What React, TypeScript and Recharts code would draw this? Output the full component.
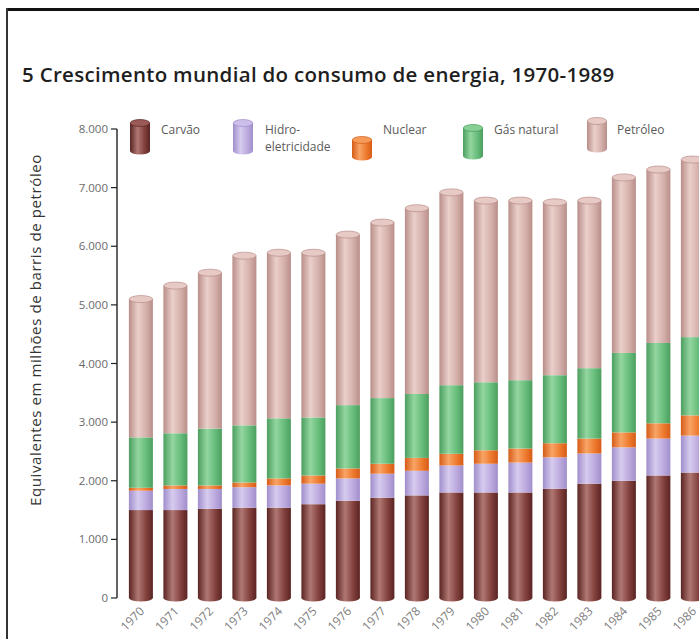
import React from "react";
import { BarChart, Bar, XAxis, YAxis, Legend } from "recharts";

const years = [1970, 1971, 1972, 1973, 1974, 1975, 1976, 1977, 1978, 1979, 1980, 1981, 1982, 1983, 1984, 1985, 1986];
const carvao = [1500, 1500, 1520, 1540, 1540, 1600, 1660, 1710, 1750, 1800, 1800, 1800, 1865, 1950, 2000, 2090, 2140];
const hidro = [330, 360, 340, 350, 380, 350, 380, 410, 420, 460, 490, 510, 535, 515, 570, 630, 630];
const nuclear = [50, 60, 60, 80, 120, 140, 170, 170, 220, 200, 230, 240, 240, 255, 255, 260, 345];
const gas = [860, 890, 970, 975, 1025, 990, 1080, 1120, 1090, 1170, 1160, 1165, 1160, 1200, 1355, 1370, 1335];
const petroleo = [2410, 2570, 2710, 2945, 2875, 2860, 2960, 3045, 3220, 3340, 3150, 3115, 3000, 2910, 3045, 3010, 3080];
const yTicks = [0, 1000, 2000, 3000, 4000, 5000, 6000, 7000, 8000];

const title = "5 Crescimento mundial do consumo de energia, 1970-1989";
const yLabel = "Equivalentes em milhões de barris de petróleo";

const data = years.map((year, i) => ({
  year,
  carvao: carvao[i],
  hidro: hidro[i],
  nuclear: nuclear[i],
  gas: gas[i],
  petroleo: petroleo[i],
}));

// cylinder colours: dark edge, base, highlight, cap
const series = [
  { key: "carvao", name: "Carvão", dark: "#5a2422", base: "#83413d", light: "#b07873", cap: "#9a5a55" },
  { key: "hidro", name: "Hidro-|eletricidade", dark: "#a08ecb", base: "#bcaade", light: "#d6cbef", cap: "#cdbfea" },
  { key: "nuclear", name: "Nuclear", dark: "#d65c18", base: "#ee7a2e", light: "#f8a466", cap: "#f59a58" },
  { key: "gas", name: "Gás natural", dark: "#4c9e5f", base: "#67bd7b", light: "#93d6a0", cap: "#86cf95" },
  { key: "petroleo", name: "Petróleo", dark: "#b98e89", base: "#d5b0ab", light: "#eacfca", cap: "#e7cac5" },
];

const legendPos: Record<string, { ix: number; iy: number; ih: number; tx: number }> = {
  carvao: { ix: 129, iy: 119, ih: 33, tx: 161 },
  hidro: { ix: 232, iy: 119, ih: 33, tx: 265 },
  nuclear: { ix: 351, iy: 136, ih: 22, tx: 383 },
  gas: { ix: 462, iy: 124, ih: 33, tx: 494 },
  petroleo: { ix: 586, iy: 117, ih: 33, tx: 617 },
};

const fmt = (v: number) => v.toLocaleString("de-DE");

const cylinder = (s: (typeof series)[number], pos: string) => (props: any) => {
  const { x, y, width, height } = props;
  if (!height || height <= 0) return <g />;
  const cx = x + width / 2;
  const rx = width / 2;
  const grad = `url(#g-${s.key})`;
  return (
    <g>
      {pos === "bottom" && <ellipse cx={cx} cy={y + height} rx={rx} ry={3.5} fill={grad} />}
      <rect x={x} y={pos === "top" ? y + 3 : y} width={width} height={pos === "top" ? height - 3 : height} fill={grad} />
      {pos === "top" && <ellipse cx={cx} cy={y + 3} rx={rx - 0.3} ry={3.5} fill={s.cap} stroke={s.dark} strokeWidth={0.7} />}
    </g>
  );
};

const LegendIcon = ({ s, h }: { s: (typeof series)[number]; h: number }) => (
  <svg width={22} height={h + 4} style={{ display: "block" }}>
    <defs>
      <linearGradient id={`lg-${s.key}`} x1="0" y1="0" x2="1" y2="0">
        <stop offset="0%" stopColor={s.dark} />
        <stop offset="38%" stopColor={s.light} />
        <stop offset="72%" stopColor={s.base} />
        <stop offset="100%" stopColor={s.dark} />
      </linearGradient>
    </defs>
    <ellipse cx={11} cy={h - 1} rx={10} ry={3.5} fill={`url(#lg-${s.key})`} />
    <rect x={1} y={4} width={20} height={h - 5} fill={`url(#lg-${s.key})`} />
    <ellipse cx={11} cy={4} rx={9.7} ry={3.5} fill={s.cap} stroke={s.dark} strokeWidth={0.7} />
  </svg>
);

const renderLegend = () => (
  <div style={{ position: "relative", width: 699, height: 1 }}>
    {series.map((s) => {
      const p = legendPos[s.key];
      const lines = s.name.split("|");
      return (
        <React.Fragment key={s.key}>
          <div style={{ position: "absolute", left: p.ix, top: p.iy }}>
            <LegendIcon s={s} h={p.ih} />
          </div>
          <div
            style={{
              position: "absolute",
              left: p.tx,
              top: 121,
              fontSize: 12,
              lineHeight: "17px",
              color: "#5a5a5a",
              whiteSpace: "nowrap",
            }}
          >
            {lines.map((l) => (
              <div key={l}>{l}</div>
            ))}
          </div>
        </React.Fragment>
      );
    })}
  </div>
);

const YearTick = ({ x, y, payload }: any) => (
  <text
    x={x + 4}
    y={y + 14}
    transform={`rotate(-45 ${x + 4} ${y + 14})`}
    textAnchor="end"
    fontSize={12}
    fill="#808080"
  >
    {payload.value}
  </text>
);

const YTitle = () => (
  <text
    x={41}
    y={330}
    transform="rotate(-90 41 330)"
    textAnchor="middle"
    fontSize={15}
    letterSpacing={0.6}
    fill="#333"
  >
    {yLabel}
  </text>
);

export default function App() {
  return (
    <div
      style={{
        position: "absolute",
        left: 0,
        top: 0,
        width: 699,
        height: 639,
        overflow: "hidden",
        background: "#fff",
        fontFamily: '"Open Sans", sans-serif',
      }}
    >
      <div style={{ position: "absolute", left: 6, top: 8, width: 693, height: 3, background: "#111" }} />
      <div style={{ position: "absolute", left: 6, top: 8, width: 2, height: 631, background: "#333" }} />
      <div
        style={{
          position: "absolute",
          left: 22,
          top: 60,
          fontSize: 20.5,
          fontWeight: 600,
          color: "#1e1e1e",
          whiteSpace: "nowrap",
          letterSpacing: 0.3,
        }}
      >
        {title}
      </div>
      <div style={{ position: "absolute", left: 0, top: 0 }}>
        <BarChart
          width={720}
          height={639}
          data={data}
          barSize={24}
          margin={{ top: 129, right: 1, bottom: 11, left: 0 }}
        >
          <defs>
            {series.map((s) => (
              <linearGradient key={s.key} id={`g-${s.key}`} x1="0" y1="0" x2="1" y2="0">
                <stop offset="0%" stopColor={s.dark} />
                <stop offset="38%" stopColor={s.light} />
                <stop offset="72%" stopColor={s.base} />
                <stop offset="100%" stopColor={s.dark} />
              </linearGradient>
            ))}
          </defs>
          <XAxis
            dataKey="year"
            type="number"
            domain={[1969.3, 1986.75]}
            ticks={years}
            interval={0}
            height={30}
            axisLine={false}
            tickLine={false}
            tickSize={0}
            tickMargin={0}
            tick={<YearTick />}
          />
          <YAxis
            domain={[0, 8000]}
            ticks={yTicks}
            width={117}
            tickFormatter={fmt}
            tick={{ fontSize: 11.5, fill: "#6a6a6a" }}
            tickSize={6}
            tickMargin={3}
            axisLine={{ stroke: "#222", strokeWidth: 1.4 }}
            tickLine={{ stroke: "#222", strokeWidth: 1.2 }}
            label={<YTitle />}
          />
          <Legend
            layout="vertical"
            align="center"
            verticalAlign="middle"
            content={renderLegend}
            wrapperStyle={{ left: 0, top: 0, width: 699, height: 1 }}
          />
          {series.map((s, i) => (
            <Bar
              key={s.key}
              dataKey={s.key}
              name={s.name.replace("|", "")}
              stackId="a"
              fill={s.base}
              isAnimationActive={false}
              shape={cylinder(s, i === 0 ? "bottom" : i === series.length - 1 ? "top" : "mid")}
            />
          ))}
        </BarChart>
      </div>
    </div>
  );
}
